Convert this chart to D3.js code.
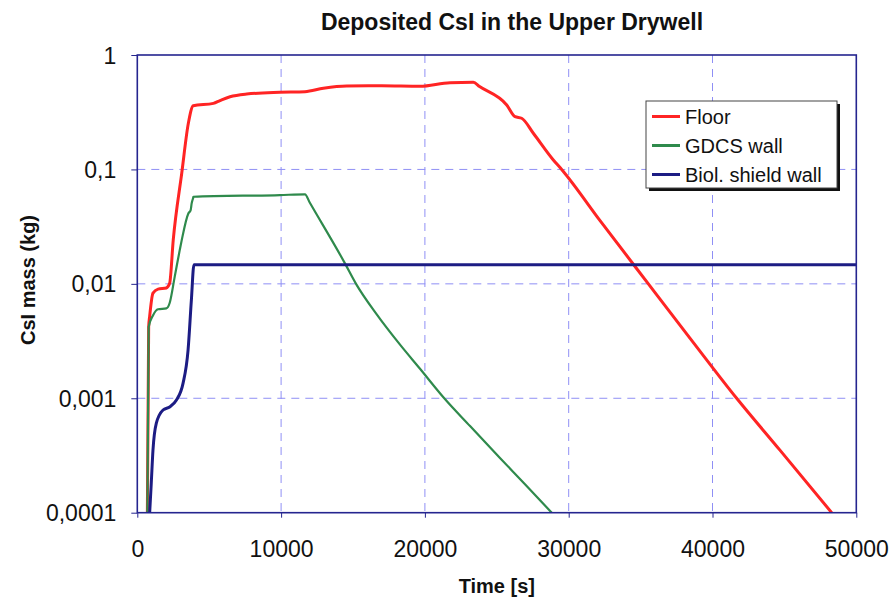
<!DOCTYPE html>
<html>
<head>
<meta charset="utf-8">
<script src="https://cdn.jsdelivr.net/npm/d3@7/dist/d3.min.js"></script>
<style>
  html, body { margin: 0; padding: 0; background: #fff; }
  svg { display: block; font-family: "Liberation Sans", Arial, sans-serif; }
</style>
</head>
<body>
<svg id="chart" width="892" height="599"></svg>
<script>
// Deposited CsI mass (kg) versus time (s), three deposition surfaces
const floorTime = [700, 790, 860, 1090, 1440, 2020, 2250, 2500, 3090, 3550, 3890, 5290, 5750, 6450, 7610, 9920, 11660, 12940, 14560, 17000, 19660, 21750, 23370, 23800, 25690, 26270, 26730, 27540, 28930, 29510, 32180, 35540, 38430, 41680, 44690, 48290];
const floorMass = [0.0001, 0.0042, 0.0052, 0.0083, 0.0090, 0.0092, 0.0101, 0.0242, 0.0925, 0.253, 0.36, 0.378, 0.40, 0.432, 0.456, 0.472, 0.478, 0.512, 0.536, 0.538, 0.532, 0.573, 0.577, 0.53, 0.366, 0.289, 0.280, 0.207, 0.121, 0.1, 0.0357, 0.0100, 0.00336, 0.00100, 0.000352, 0.0001];

const gdcsTime = [700, 790, 1090, 1440, 2020, 2250, 2600, 2950, 3090, 3550, 3710, 3780, 3890, 3900, 9920, 11660, 12000, 14440, 15210, 16650, 18270, 19660, 21330, 23140, 25220, 26960, 28820];
const gdcsMass = [0.0001, 0.0042, 0.0053, 0.0060, 0.0061, 0.0068, 0.0115, 0.0197, 0.0241, 0.0412, 0.0441, 0.0505, 0.0569, 0.0577, 0.0597, 0.0606, 0.0511, 0.0151, 0.0100, 0.00541, 0.00294, 0.00181, 0.001005, 0.000571, 0.000301, 0.000177, 0.0001];

const shieldTime = [860, 970, 1090, 1320, 1790, 2250, 2710, 3180, 3530, 3760, 3940, 50000];
const shieldMass = [0.0001, 0.00018, 0.000352, 0.000603, 0.00079, 0.00084, 0.00096, 0.00135, 0.00264, 0.0072, 0.0147, 0.0147];

const seriesNames = ["Floor", "GDCS wall", "Biol. shield wall"];
const seriesColors = ["#ff2424", "#2f8a4c", "#1c1c84"];

const xTicks = [0, 10000, 20000, 30000, 40000, 50000];
const yTicks = [0.0001, 0.001, 0.01, 0.1, 1];
const yTickLabels = ["0,0001", "0,001", "0,01", "0,1", "1"];

const series = [
  { name: seriesNames[0], color: seriesColors[0], width: 3, pts: floorTime.map((t, i) => [t, floorMass[i]]) },
  { name: seriesNames[1], color: seriesColors[1], width: 2.2, pts: gdcsTime.map((t, i) => [t, gdcsMass[i]]) },
  { name: seriesNames[2], color: seriesColors[2], width: 3, pts: shieldTime.map((t, i) => [t, shieldMass[i]]) }
];

const svg = d3.select("#chart");
const plotL = 137.3, plotR = 856.3, plotT = 55, plotB = 512.7;
const frameColor = "#25258f";
const gridColor = "#8f8ff5";

const x = d3.scaleLinear().domain([0, 50000]).range([plotL, plotR]);
const y = d3.scaleLog().domain([0.0001, 1]).range([plotB, plotT]);

// gridlines
const grid = svg.append("g");
grid.selectAll("line.gx").data(xTicks.slice(1, -1)).join("line")
  .attr("x1", d => x(d)).attr("x2", d => x(d)).attr("y1", plotT).attr("y2", plotB)
  .attr("stroke", gridColor).attr("stroke-width", 1).attr("stroke-dasharray", "8,6");
grid.selectAll("line.gy").data(yTicks.slice(1, -1)).join("line")
  .attr("x1", plotL).attr("x2", plotR).attr("y1", d => y(d)).attr("y2", d => y(d))
  .attr("stroke", gridColor).attr("stroke-width", 1).attr("stroke-dasharray", "8,6");

// data lines
svg.append("clipPath").attr("id", "plotClip").append("rect")
  .attr("x", plotL).attr("y", plotT).attr("width", plotR - plotL).attr("height", plotB - plotT);
const line = d3.line().x(d => x(d[0])).y(d => y(d[1])).curve(d3.curveMonotoneX);
svg.append("g").attr("clip-path", "url(#plotClip)")
  .selectAll("path").data(series).join("path")
  .attr("d", d => line(d.pts))
  .attr("fill", "none")
  .attr("stroke", d => d.color)
  .attr("stroke-width", d => d.width)
  .attr("stroke-linejoin", "round");

// axes
const xAxis = d3.axisBottom(x).tickValues(xTicks).tickSize(5).tickFormat(d3.format("d"));
const gx = svg.append("g").attr("transform", `translate(0,${plotB})`).call(xAxis);
gx.select(".domain").remove();
gx.selectAll(".tick line").attr("stroke", frameColor);
gx.selectAll(".tick text").attr("font-size", 23).attr("fill", "#111").attr("dy", null).attr("y", 44);

const yAxis = d3.axisLeft(y).tickValues(yTicks).tickSize(6).tickFormat((d, i) => yTickLabels[i]);
const gy = svg.append("g").attr("transform", `translate(${plotL},0)`).call(yAxis);
gy.select(".domain").remove();
gy.selectAll(".tick line").attr("stroke", frameColor);
gy.selectAll(".tick text").attr("font-size", 23).attr("fill", "#111").attr("x", -21).attr("dy", "0.35em");

// plot frame
svg.append("rect").attr("x", plotL).attr("y", plotT).attr("width", plotR - plotL).attr("height", plotB - plotT)
  .attr("fill", "none").attr("stroke", frameColor).attr("stroke-width", 1.6);

// titles
svg.append("text").attr("x", 512).attr("y", 30).attr("text-anchor", "middle")
  .attr("font-size", 23).attr("font-weight", "bold").attr("fill", "#111")
  .text("Deposited CsI in the Upper Drywell");
svg.append("text").attr("x", (plotL + plotR) / 2).attr("y", 593).attr("text-anchor", "middle")
  .attr("font-size", 20).attr("font-weight", "bold").attr("fill", "#111")
  .text("Time [s]");
svg.append("text").attr("transform", "translate(35,280) rotate(-90)").attr("text-anchor", "middle")
  .attr("font-size", 20).attr("font-weight", "bold").attr("fill", "#111")
  .text("CsI mass (kg)");

// legend
const lg = svg.append("g");
const lx = 646, ly = 101, lw = 191, lh = 87;
lg.append("rect").attr("x", lx + 3).attr("y", ly + 3).attr("width", lw).attr("height", lh).attr("fill", "#111");
lg.append("rect").attr("x", lx).attr("y", ly).attr("width", lw).attr("height", lh)
  .attr("fill", "#fff").attr("stroke", "#444").attr("stroke-width", 1);
const rows = lg.selectAll("g.row").data(series).join("g")
  .attr("transform", (d, i) => `translate(0,${116.5 + i * 29})`);
rows.append("line").attr("x1", 652).attr("x2", 680).attr("y1", 0).attr("y2", 0)
  .attr("stroke", d => d.color).attr("stroke-width", 3);
rows.append("text").attr("x", 685).attr("y", 0).attr("dy", "0.35em")
  .attr("font-size", 20).attr("fill", "#111").text(d => d.name);
</script>
</body>
</html>
